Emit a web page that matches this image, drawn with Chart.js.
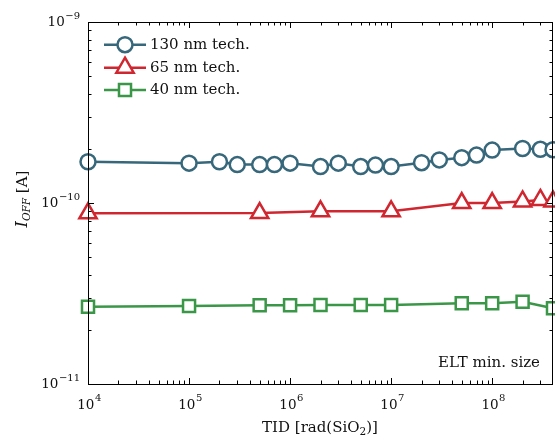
<!DOCTYPE html>
<html>
<head>
<meta charset="utf-8">
<script src="https://cdn.jsdelivr.net/npm/chart.js@4/dist/chart.umd.min.js"></script>
<style>
  body { margin: 0; background: #fff; }
  #wrap { width: 555px; height: 437px; }
</style>
</head>
<body>
<div id="wrap"><canvas id="ioffChart" width="555" height="437"></canvas></div>
<script>
// TID steps [rad(SiO2)] and off-state current [A] per technology node
const dose130 = [1e4, 1e5, 2e5, 3e5, 5e5, 7e5, 1e6, 2e6, 3e6, 5e6, 7e6, 1e7, 2e7, 3e7, 5e7, 7e7, 1e8, 2e8, 3e8, 4e8];
const ioff130 = [1.69e-10, 1.66e-10, 1.69e-10, 1.63e-10, 1.63e-10, 1.63e-10, 1.66e-10, 1.59e-10, 1.66e-10, 1.59e-10,
                 1.62e-10, 1.59e-10, 1.67e-10, 1.73e-10, 1.78e-10, 1.84e-10, 1.96e-10, 2.0e-10, 1.98e-10, 1.97e-10];

const dose65 = [1e4, 5e5, 2e6, 1e7, 5e7, 1e8, 2e8, 3e8, 4e8];
const ioff65 = [8.77e-11, 8.8e-11, 9.0e-11, 9.0e-11, 1.0e-10, 1.0e-10, 1.02e-10, 1.04e-10, 1.02e-10];

const dose40 = [1e4, 1e5, 5e5, 1e6, 2e6, 5e6, 1e7, 5e7, 1e8, 2e8, 4e8];
const ioff40 = [2.67e-11, 2.70e-11, 2.72e-11, 2.72e-11, 2.73e-11, 2.73e-11, 2.73e-11, 2.79e-11, 2.79e-11, 2.85e-11, 2.62e-11];

const seriesNames = ["130 nm tech.", "65 nm tech.", "40 nm tech."];
const seriesColors = ["#36677a", "#d0262f", "#3b9748"];
const seriesMarkers = ["circle", "triangle", "rect"];
const markerRadius = [7.5, 10, 8.5];

const xMajor = [1e4, 1e5, 1e6, 1e7, 1e8];
const yMajor = [1e-11, 1e-10, 1e-9];

const SERIF = '"DejaVu Serif", serif';

function points(xs, ys) {
  return xs.map((v, i) => ({ x: v, y: ys[i] }));
}

function makeDataset(i, xs, ys) {
  return {
    label: seriesNames[i],
    data: points(xs, ys),
    borderColor: seriesColors[i],
    backgroundColor: "#fff",
    borderWidth: 2.5,
    pointStyle: seriesMarkers[i],
    pointRadius: markerRadius[i],
    pointBorderWidth: 2.5,
    pointBackgroundColor: "#fff",
    pointBorderColor: seriesColors[i],
    tension: 0,
    clip: false,
  };
}

function minorTicks(lo, hi) {
  const out = [];
  for (let e = Math.floor(Math.log10(lo)); e <= Math.ceil(Math.log10(hi)); e++) {
    for (let k = 2; k <= 9; k++) {
      const v = Number((k * Math.pow(10, e)).toPrecision(3));
      if (v > lo && v < hi) out.push(v);
    }
  }
  return out;
}

function expText(n) {
  return String(n).replace("-", "\u2212");
}

// frame, inward ticks, power-of-ten labels, axis titles, legend and note
const decorations = {
  id: "decorations",
  afterDatasetsDraw(chart) {
    const { ctx, chartArea: a, scales } = chart;
    const xs = scales.x, ys = scales.y;
    ctx.save();
    ctx.strokeStyle = "#000";
    ctx.lineWidth = 1;
    ctx.strokeRect(Math.round(a.left) + 0.5, Math.round(a.top) + 0.5,
      Math.round(a.right - a.left) - 1, Math.round(a.bottom - a.top));

    ctx.beginPath();
    const xTick = (v, len) => {
      const px = Math.round(xs.getPixelForValue(v)) + 0.5;
      ctx.moveTo(px, a.bottom); ctx.lineTo(px, a.bottom - len);
      ctx.moveTo(px, a.top); ctx.lineTo(px, a.top + len);
    };
    const yTick = (v, len) => {
      const py = Math.round(ys.getPixelForValue(v)) + 0.5;
      ctx.moveTo(a.left, py); ctx.lineTo(a.left + len, py);
      ctx.moveTo(a.right, py); ctx.lineTo(a.right - len, py);
    };
    xMajor.forEach((v) => xTick(v, 6));
    minorTicks(xs.min, xs.max).forEach((v) => xTick(v, 3.5));
    yMajor.forEach((v) => yTick(v, 6));
    minorTicks(ys.min, ys.max).forEach((v) => yTick(v, 3.5));
    ctx.stroke();

    ctx.fillStyle = "#111";
    ctx.textBaseline = "middle";
    const base = "13.5px " + SERIF, sup = "10px " + SERIF;

    // x tick labels
    xMajor.forEach((v) => {
      const e = expText(Math.round(Math.log10(v)));
      ctx.font = base; const w1 = ctx.measureText("10").width;
      ctx.font = sup; const w2 = ctx.measureText(e).width;
      const px = xs.getPixelForValue(v);
      const x0 = px - (w1 + w2) / 2 + 1;
      ctx.textAlign = "left";
      ctx.font = base; ctx.fillText("10", x0, 405);
      ctx.font = sup; ctx.fillText(e, x0 + w1 + 0.5, 398);
    });

    // y tick labels
    yMajor.forEach((v) => {
      const e = expText(Math.round(Math.log10(v)));
      const py = ys.getPixelForValue(v);
      ctx.font = sup; const w2 = ctx.measureText(e).width;
      ctx.textAlign = "left";
      ctx.fillText(e, 80 - w2, py - 6);
      ctx.textAlign = "right";
      ctx.font = base; ctx.fillText("10", 80 - w2 - 0.5, py + 0.5);
    });

    // x title: TID [rad(SiO2)]
    ctx.font = "15px " + SERIF;
    ctx.textAlign = "left";
    const p1 = "TID [rad(SiO", p2 = "2", p3 = ")]";
    const w1 = ctx.measureText(p1).width, w3 = ctx.measureText(p3).width;
    ctx.font = "10.5px " + SERIF; const w2 = ctx.measureText(p2).width;
    let tx = 320 - (w1 + w2 + w3) / 2;
    ctx.font = "15px " + SERIF; ctx.fillText(p1, tx, 428);
    ctx.font = "10.5px " + SERIF; ctx.fillText(p2, tx + w1, 432);
    ctx.font = "15px " + SERIF; ctx.fillText(p3, tx + w1 + w2, 428);

    // y title: I_OFF [A], rotated
    ctx.save();
    ctx.translate(23, 199);
    ctx.rotate(-Math.PI / 2);
    ctx.font = "italic 16px " + SERIF; const a1 = ctx.measureText("I").width;
    ctx.font = "italic 10.5px " + SERIF; const a2 = ctx.measureText("OFF").width;
    ctx.font = "15px " + SERIF; const a3 = ctx.measureText(" [A]").width;
    let ox = -(a1 + a2 + a3) / 2;
    ctx.font = "italic 16px " + SERIF; ctx.fillText("I", ox, 0);
    ctx.font = "italic 10.5px " + SERIF; ctx.fillText("OFF", ox + a1, 4.5);
    ctx.font = "15px " + SERIF; ctx.fillText(" [A]", ox + a1 + a2, 0);
    ctx.restore();

    // legend
    const rows = [44.7, 67.7, 90];
    rows.forEach((ry, i) => {
      ctx.strokeStyle = seriesColors[i];
      ctx.lineWidth = 2.5;
      ctx.beginPath(); ctx.moveTo(104, ry); ctx.lineTo(146, ry); ctx.stroke();
      ctx.fillStyle = "#fff";
      Chart.helpers.drawPoint(ctx, {
        pointStyle: seriesMarkers[i], radius: markerRadius[i], borderWidth: 2.5, rotation: 0,
      }, 125, ry);
      ctx.fillStyle = "#111";
      ctx.font = "15px " + SERIF;
      ctx.textAlign = "left";
      ctx.fillText(seriesNames[i], 150, ry + 0.5);
    });

    ctx.font = "15px " + SERIF;
    ctx.textAlign = "right";
    ctx.fillText("ELT min. size", 540, 363);
    ctx.restore();
  },
};

// hidden scales: take no room so the padding alone sets the plot box
function noRoom(s) {
  if (s.isHorizontal()) s.height = 0; else s.width = 0;
  s.paddingLeft = s.paddingRight = s.paddingTop = s.paddingBottom = 0;
}

new Chart(document.getElementById("ioffChart"), {
  type: "line",
  data: {
    datasets: [
      makeDataset(0, dose130, ioff130),
      makeDataset(1, dose65, ioff65),
      makeDataset(2, dose40, ioff40),
    ],
  },
  options: {
    responsive: false,
    animation: false,
    layout: {
      autoPadding: false,
      padding: { left: 88, top: 22, right: 2, bottom: 53 },
    },
    scales: {
      x: {
        type: "logarithmic", min: 1e4, max: 4e8,
        grid: { display: false }, border: { display: false },
        ticks: { display: false },
        afterFit: noRoom,
      },
      y: {
        type: "logarithmic", min: 1e-11, max: 1e-9,
        grid: { display: false }, border: { display: false },
        ticks: { display: false },
        afterFit: noRoom,
      },
    },
    plugins: {
      legend: { display: false },
      tooltip: { enabled: false },
    },
  },
  plugins: [decorations],
});
</script>
</body>
</html>
